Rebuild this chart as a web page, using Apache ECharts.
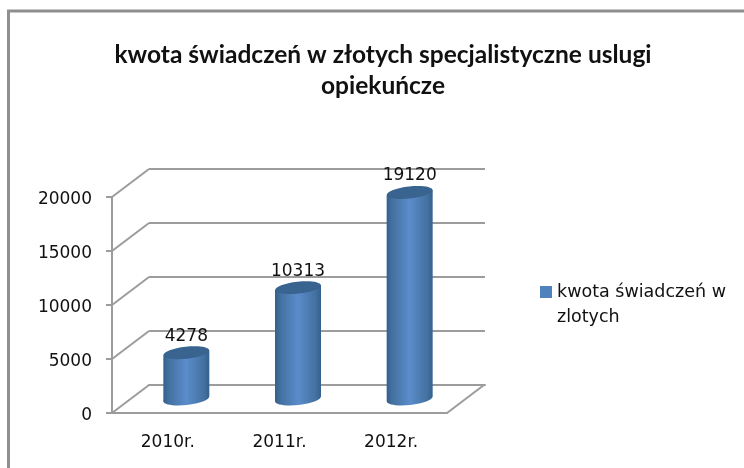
<!DOCTYPE html>
<html>
<head>
<meta charset="utf-8">
<style>
  html, body { margin: 0; padding: 0; background: #fff; }
  #main { width: 744px; height: 468px; }
</style>
<script src="https://cdn.jsdelivr.net/npm/echarts@6/dist/echarts.min.js"></script>
</head>
<body>
<div id="main"></div>
<script>
const categories = ['2010r.', '2011r.', '2012r.'];
const values = [4278, 10313, 19120];
const yTicks = [0, 5000, 10000, 15000, 20000];
const seriesName = 'kwota świadczeń w';
const legendLine2 = 'zlotych';
const titleText = 'kwota świadczeń w złotych specjalistyczne uslugi\nopiekuńcze';

const font = '"DejaVu Sans", sans-serif';
const gridColor = '#9c9c9c';
// depth of the fake 3d box
const depthX = 37;
const depthY = -28;

const chart = echarts.init(document.getElementById('main'));

function renderBar(params, api) {
  const base = api.coord([api.value(0), 0]);
  const top = api.coord([api.value(0), api.value(1)]);
  const cx = base[0] + depthX / 2;
  const yb = base[1] + depthY / 2;
  const yt = top[1] + depthY / 2;
  const rx = 23, ry = 6, tilt = 2.5;
  const body = new echarts.graphic.LinearGradient(0, 0, 1, 0, [
    { offset: 0, color: '#33608f' },
    { offset: 0.12, color: '#44719f' },
    { offset: 0.5, color: '#5b8ccc' },
    { offset: 0.88, color: '#44719f' },
    { offset: 1, color: '#33608f' }
  ]);
  const ellipse = (y, fill) => ({
    type: 'ellipse',
    shape: { cx: cx, cy: y, rx: rx, ry: ry },
    rotation: Math.atan2(tilt * 2, rx * 2),
    originX: cx,
    originY: y,
    style: { fill: fill }
  });
  return {
    type: 'group',
    children: [
      ellipse(yb, body),
      {
        type: 'polygon',
        shape: { points: [[cx - rx, yt + tilt], [cx + rx, yt - tilt], [cx + rx, yb - tilt], [cx - rx, yb + tilt]] },
        style: { fill: body }
      },
      ellipse(yt, '#38648f'),
      {
        type: 'text',
        x: cx,
        y: yt - 8,
        style: {
          text: String(api.value(1)),
          font: '17px ' + font,
          fill: '#111',
          align: 'center',
          verticalAlign: 'bottom'
        }
      }
    ]
  };
}

// side wall and floor diagonals, front axis to back wall
function renderDiagonal(params, api) {
  const p = api.coord([0, api.value(0)]);
  const x = p[0] - api.size([1, 0])[0] / 2;
  const lines = [{
    type: 'line',
    shape: { x1: x, y1: p[1], x2: x + depthX, y2: p[1] + depthY },
    style: { stroke: gridColor, lineWidth: 2 }
  }];
  if (api.value(0) === 0) {
    const w = api.size([1, 0])[0] * categories.length;
    lines.push({
      type: 'line',
      shape: { x1: x + w, y1: p[1], x2: x + w + depthX, y2: p[1] + depthY },
      style: { stroke: gridColor, lineWidth: 2 }
    });
  }
  return { type: 'group', children: lines };
}

const option = {
  animation: false,
  backgroundColor: '#fff',
  title: {
    text: titleText,
    left: 378,
    top: 35,
    textAlign: 'center',
    textStyle: { fontFamily: 'Lato, sans-serif', fontSize: 24.5, fontWeight: 'bold', color: '#111', lineHeight: 31 }
  },
  legend: {
    data: [{ name: seriesName, icon: 'rect' }],
    left: 535,
    top: 278,
    itemWidth: 12,
    itemHeight: 12,
    textStyle: { fontFamily: font, fontSize: 17.5, color: '#111' }
  },
  graphic: [
    {
      type: 'rect',
      silent: true,
      z: -1,
      shape: { x: 8.5, y: 11, width: 760, height: 480 },
      style: { fill: 'none', stroke: '#8f8f8f', lineWidth: 3 }
    },
    {
      type: 'text',
      left: 557,
      top: 308,
      style: { text: legendLine2, font: '17.5px ' + font, fill: '#111' }
    }
  ],
  grid: [
    { left: 112, right: 297, top: 197, bottom: 55 },
    { left: 149, right: 259, top: 169, bottom: 83 }
  ],
  xAxis: [
    {
      type: 'category',
      data: categories,
      axisLine: { lineStyle: { color: gridColor, width: 2 } },
      axisTick: { alignWithLabel: false, length: 6, lineStyle: { color: gridColor, width: 2 } },
      axisLabel: { fontFamily: font, fontSize: 17, color: '#111', margin: 21 }
    },
    {
      type: 'category',
      gridIndex: 1,
      data: categories,
      axisLine: { lineStyle: { color: gridColor, width: 2 } },
      axisTick: { show: false },
      axisLabel: { show: false }
    }
  ],
  yAxis: [
    {
      type: 'value',
      min: 0,
      max: 20000,
      interval: 5000,
      axisLine: { show: true, lineStyle: { color: gridColor, width: 2 } },
      axisTick: { show: true, length: 6, lineStyle: { color: gridColor, width: 2 } },
      splitLine: { show: false },
      axisLabel: { fontFamily: font, fontSize: 17, color: '#111', margin: 20, verticalAlign: 'top', lineHeight: 6, formatter: v => String(v) }
    },
    {
      type: 'value',
      gridIndex: 1,
      min: 0,
      max: 20000,
      interval: 5000,
      axisLine: { show: false },
      axisTick: { show: false },
      axisLabel: { show: false },
      splitLine: { show: true, lineStyle: { color: gridColor, width: 2 } }
    }
  ],
  series: [
    {
      type: 'custom',
      silent: true,
      renderItem: renderDiagonal,
      encode: { y: 0 },
      data: yTicks.map(v => [v]),
      z: 1
    },
    {
      name: seriesName,
      type: 'custom',
      renderItem: renderBar,
      itemStyle: { color: '#4f81bd' },
      encode: { x: 0, y: 1 },
      data: values.map((v, i) => [i, v]),
      z: 3
    }
  ]
};

chart.setOption(option);
window.addEventListener('resize', () => chart.resize());
</script>
</body>
</html>
